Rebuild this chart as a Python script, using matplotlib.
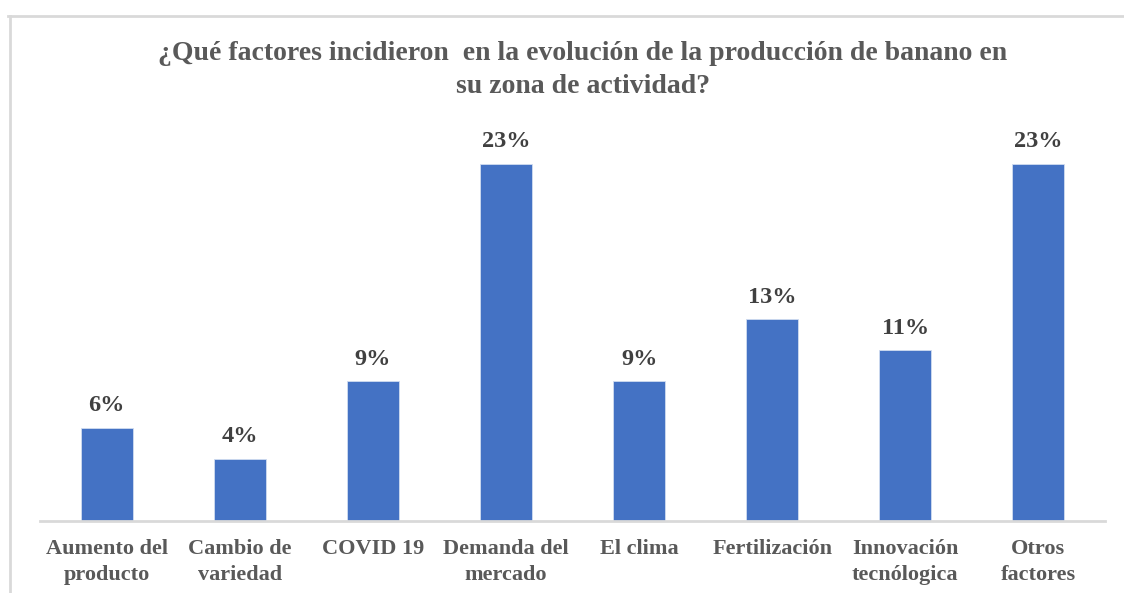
import matplotlib.pyplot as plt

categories = ["Aumento del\nproducto", "Cambio de\nvariedad", "COVID 19", "Demanda del\nmercado",
              "El clima", "Fertilización", "Innovación\ntecnólogica", "Otros\nfactores"]
values = [6, 4, 9, 23, 9, 13, 11, 23]
labels = ["6%", "4%", "9%", "23%", "9%", "13%", "11%", "23%"]

title = "¿Qué factores incidieron  en la evolución de la producción de banano en\nsu zona de actividad?"

plt.rcParams['font.family'] = ['Liberation Serif', 'DejaVu Serif']

fig = plt.figure(figsize=(11.24, 5.93), dpi=100)
ax = fig.add_axes([40 / 1124, 72 / 593, 1065 / 1124, 391 / 593])

x = range(len(categories))
bars = ax.bar(x, values, width=0.39, color='#4472C4', edgecolor='#d0dcf0', linewidth=0.6, zorder=2)
for b, lab in zip(bars, labels):
    ax.text(b.get_x() + b.get_width() / 2, b.get_height() + 0.75, lab,
            ha='center', va='bottom', fontsize=17.5, fontweight='bold', color='#404040')

ax.set_xlim(-0.5, len(categories) - 0.5)
ax.set_ylim(0, 25.19)
ax.set_xticks(list(x))
ax.set_xticklabels(categories, fontsize=16, fontweight='bold', color='#595959', linespacing=1.38)
ax.tick_params(axis='x', length=0, pad=13)
ax.set_yticks([])
for s in ['top', 'left', 'right']:
    ax.spines[s].set_visible(False)
ax.spines['bottom'].set_color('#d9d9d9')
ax.spines['bottom'].set_linewidth(2)

fig.text(583 / 1124, 1 - 70 / 593, title, ha='center', va='center', fontsize=20,
         fontweight='bold', color='#595959', linespacing=1.45)

# outer frame (top and left edges only visible)
fig.add_artist(plt.Line2D([8 / 1124, 1], [1 - 16 / 593, 1 - 16 / 593], color='#d9d9d9', lw=2))
fig.add_artist(plt.Line2D([10 / 1124, 10 / 1124], [0, 1 - 16 / 593], color='#d9d9d9', lw=2))

fig.savefig('out.png', dpi=100)
